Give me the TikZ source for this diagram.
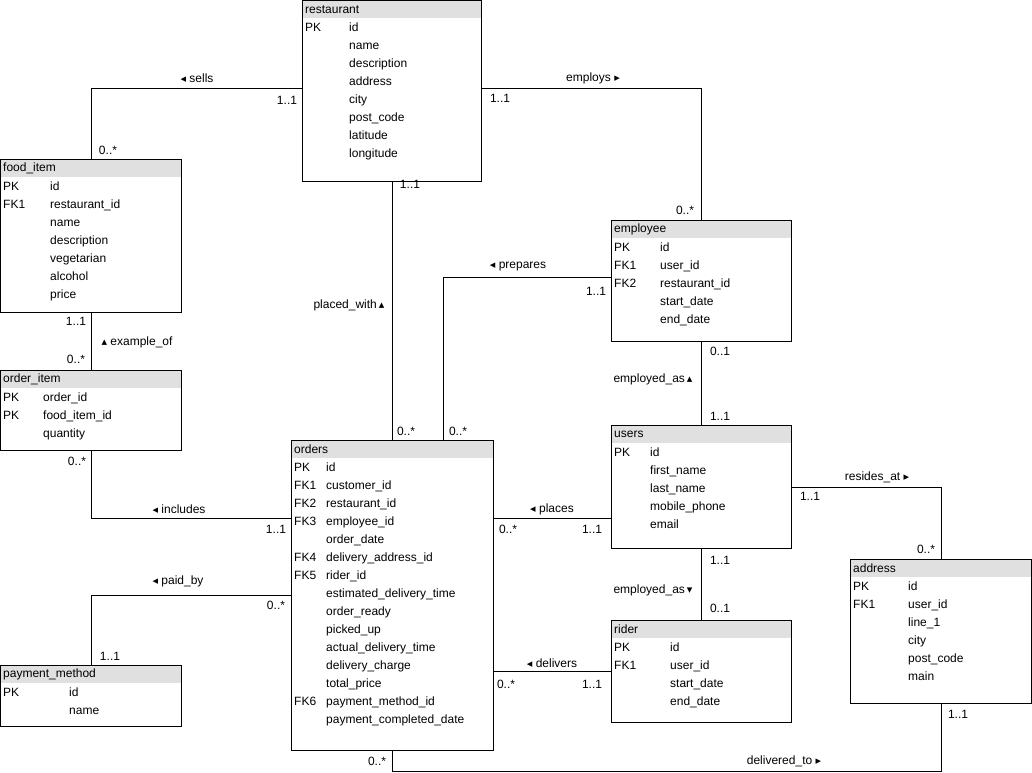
\documentclass[tikz,border=0pt]{standalone}
\usepackage{fontspec}
\setmainfont{Liberation Sans}
\newfontfamily\symfont{DejaVu Sans}
\usepackage{tikz}
\usetikzlibrary{positioning, calc}
\definecolor{hdrgray}{HTML}{E0E0E0}
\newcommand{\trileft}{{\symfont\fontsize{11}{14}\selectfont ◂}}
\newcommand{\triright}{{\symfont\fontsize{11}{14}\selectfont ▸}}
\newcommand{\triup}{{\symfont\fontsize{11}{14}\selectfont ▴}}
\newcommand{\tridown}{{\symfont\fontsize{11}{14}\selectfont ▾}}
\tikzset{
  entity/.style={draw, line width=1pt, anchor=north west, inner sep=0pt},
  hdr/.style={fill=hdrgray, anchor=north west, inner xsep=3pt, inner ysep=0pt, minimum height=18pt, align=left, font=\fontsize{12}{14}\selectfont},
  fields/.style={anchor=north west, inner sep=0pt, font=\fontsize{12}{18}\selectfont},
  link/.style={line width=1pt}
}

\begin{document}
\begin{tikzpicture}[
            x=1pt, y=-1pt,
            card/.style={inner sep=0pt, font=\fontsize{12}{14}\selectfont},
            rel/.style={inner sep=0pt, font=\fontsize{12}{14}\selectfont}
        ]
            \useasboundingbox (0,0) rectangle (1032,772);

            % --- Tablas ---
            \node (restaurant-t) [hdr, text width=173pt] at (302,0) {restaurant};
            \node (restaurant) [entity, minimum width=179pt, minimum height=181pt] at (restaurant-t.north west) {};
            \node (restaurant-f) [fields] at ([xshift=3pt]restaurant-t.south west) {\begin{tabular}{@{}p{44pt}@{}l@{}}
              PK & id\\ & name\\ & description\\ & address\\ & city\\ & post\_code\\ & latitude\\ & longitude
            \end{tabular}};

            \node (fooditem-t) [hdr, text width=175pt] at (0,159) {food\_item};
            \node (fooditem) [entity, minimum width=181pt, minimum height=153pt] at (fooditem-t.north west) {};
            \node (fooditem-f) [fields] at ([xshift=3pt]fooditem-t.south west) {\begin{tabular}{@{}p{47pt}@{}l@{}}
              PK & id\\ FK1 & restaurant\_id\\ & name\\ & description\\ & vegetarian\\ & alcohol\\ & price
            \end{tabular}};

            \node (orderitem-t) [hdr, text width=175pt] at (0,370) {order\_item};
            \node (orderitem) [entity, minimum width=181pt, minimum height=80pt] at (orderitem-t.north west) {};
            \node (orderitem-f) [fields] at ([xshift=3pt]orderitem-t.south west) {\begin{tabular}{@{}p{40pt}@{}l@{}}
              PK & order\_id\\ PK & food\_item\_id\\ & quantity
            \end{tabular}};

            \node (payment-t) [hdr, text width=175pt] at (0,665) {payment\_method};
            \node (payment) [entity, minimum width=181pt, minimum height=61pt] at (payment-t.north west) {};
            \node (payment-f) [fields] at ([xshift=3pt]payment-t.south west) {\begin{tabular}{@{}p{66pt}@{}l@{}}
              PK & id\\ & name
            \end{tabular}};

            \node (orders-t) [hdr, text width=196pt] at (291,440) {orders};
            \node (orders) [entity, minimum width=202pt, minimum height=310pt] at (orders-t.north west) {};
            \node (orders-f) [fields] at ([xshift=3pt]orders-t.south west) {\begin{tabular}{@{}p{32pt}@{}l@{}}
              PK & id\\ FK1 & customer\_id\\ FK2 & restaurant\_id\\ FK3 & employee\_id\\ & order\_date\\
              FK4 & delivery\_address\_id\\ FK5 & rider\_id\\ & estimated\_delivery\_time\\ & order\_ready\\
              & picked\_up\\ & actual\_delivery\_time\\ & delivery\_charge\\ & total\_price\\
              FK6 & payment\_method\_id\\ & payment\_completed\_date
            \end{tabular}};

            \node (employee-t) [hdr, text width=174pt] at (611,220) {employee};
            \node (employee) [entity, minimum width=180pt, minimum height=121pt] at (employee-t.north west) {};
            \node (employee-f) [fields] at ([xshift=3pt]employee-t.south west) {\begin{tabular}{@{}p{46pt}@{}l@{}}
              PK & id\\ FK1 & user\_id\\ FK2 & restaurant\_id\\ & start\_date\\ & end\_date
            \end{tabular}};

            \node (users-t) [hdr, text width=174pt] at (611,425) {users};
            \node (users) [entity, minimum width=180pt, minimum height=123pt] at (users-t.north west) {};
            \node (users-f) [fields] at ([xshift=3pt]users-t.south west) {\begin{tabular}{@{}p{36pt}@{}l@{}}
              PK & id\\ & first\_name\\ & last\_name\\ & mobile\_phone\\ & email
            \end{tabular}};

            \node (rider-t) [hdr, text width=174pt] at (611,620) {rider};
            \node (rider) [entity, minimum width=180pt, minimum height=102pt] at (rider-t.north west) {};
            \node (rider-f) [fields] at ([xshift=3pt]rider-t.south west) {\begin{tabular}{@{}p{56pt}@{}l@{}}
              PK & id\\ FK1 & user\_id\\ & start\_date\\ & end\_date
            \end{tabular}};

            \node (address-t) [hdr, text width=175pt] at (850,559) {address};
            \node (address) [entity, minimum width=181pt, minimum height=144pt] at (address-t.north west) {};
            \node (address-f) [fields] at ([xshift=3pt]address-t.south west) {\begin{tabular}{@{}p{55pt}@{}l@{}}
              PK & id\\ FK1 & user\_id\\ & line\_1\\ & city\\ & post\_code\\ & main
            \end{tabular}};

            % --- Relaciones ---
            \draw [link] ([yshift=2.5pt]restaurant.west) -| (fooditem.north);
            \draw [link] ([yshift=2.5pt]restaurant.east) -| (employee.north);
            \draw [link] (restaurant.south) -- (restaurant.south |- orders.north);
            \draw [link] ([xshift=51pt]orders.north) |- ([yshift=3.5pt]employee.west);
            \draw [link] (fooditem.south) -- (orderitem.north);
            \draw [link] (orderitem.south) |- ([yshift=77pt]orders.west);
            \draw [link] (orders.west) -| (payment.north);
            \draw [link] ([yshift=77pt]orders.east) -- ([yshift=77pt]orders.east -| users.west);
            \draw [link] (employee.south) -- (users.north);
            \draw [link] (users.south) -- (rider.north);
            \draw [link] (rider.west) -- (rider.west -| orders.east);
            \draw [link] (users.east) -| (address.north);
            \draw [link] (orders.south) -- ++(0,20) -| (address.south);

            % --- Etiquetas ---
            \node (sells) [rel] at (197,78) {\trileft{} sells};
            \node (sells-a) [card] at (287,100) {1..1};
            \node (sells-b) [card] at (108,150) {0..*};

            \node (employs) [rel] at (593,78) {employs \triright};
            \node (employs-a) [card] at (500,98) {1..1};
            \node (employs-b) [card] at (685,210) {0..*};

            \node (placed) [rel] at (349,305) {placed\_with\,\triup};
            \node (placed-a) [card] at (410,184) {1..1};
            \node (placed-b) [card] at (406,431) {0..*};

            \node (prepares) [rel] at (518,267) {\trileft{} prepares};
            \node (prepares-a) [card] at (596,291) {1..1};
            \node (prepares-b) [card] at (458,431) {0..*};

            \node (example) [rel] at (137,342) {\triup{} example\_of};
            \node (example-a) [card] at (76,321) {1..1};
            \node (example-b) [card] at (76,359) {0..*};

            \node (includes) [rel] at (179,509) {\trileft{} includes};
            \node (includes-a) [card] at (77,461) {0..*};
            \node (includes-b) [card] at (276,529) {1..1};

            \node (paid) [rel] at (178,581) {\trileft{} paid\_by};
            \node (paid-a) [card] at (276,605) {0..*};
            \node (paid-b) [card] at (110,656) {1..1};

            \node (places) [rel] at (552,509) {\trileft{} places};
            \node (places-a) [card] at (508,529) {0..*};
            \node (places-b) [card] at (592,529) {1..1};

            \node (empas1) [rel] at (653,379) {employed\_as\,\triup};
            \node (empas1-a) [card] at (720,351) {0..1};
            \node (empas1-b) [card] at (720,416) {1..1};

            \node (empas2) [rel] at (653,590) {employed\_as\,\tridown};
            \node (empas2-a) [card] at (720,560) {1..1};
            \node (empas2-b) [card] at (720,608) {0..1};

            \node (delivers) [rel] at (552,663) {\trileft{} delivers};
            \node (delivers-a) [card] at (506,684) {0..*};
            \node (delivers-b) [card] at (592,684) {1..1};

            \node (resides) [rel] at (877,477) {resides\_at \triright};
            \node (resides-a) [card] at (810,496) {1..1};
            \node (resides-b) [card] at (926,549) {0..*};

            \node (delivered) [rel] at (784,761) {delivered\_to \triright};
            \node (delivered-a) [card] at (377,761) {0..*};
            \node (delivered-b) [card] at (958,714) {1..1};

        \end{tikzpicture}
\end{document}
